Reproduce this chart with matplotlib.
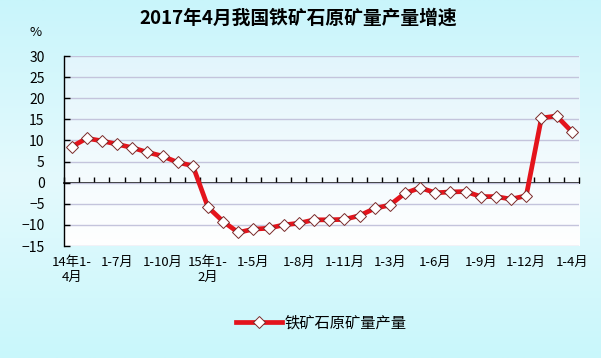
import matplotlib
matplotlib.use("Agg")
import matplotlib.pyplot as plt
import numpy as np
from matplotlib.colors import LinearSegmentedColormap

plt.rcParams['font.family'] = ['Noto Sans CJK SC', 'DejaVu Sans']

title = "2017年4月我国铁矿石原矿量产量增速"
series_name = "铁矿石原矿量产量"
categories = (
    ["14年1-\n4月", "1-5月", "1-6月", "1-7月", "1-8月", "1-9月", "1-10月", "1-11月", "1-12月"]
    + ["15年1-\n2月", "1-3月", "1-4月", "1-5月", "1-6月", "1-7月", "1-8月", "1-9月", "1-10月", "1-11月", "1-12月"]
    + ["16年1-2月", "1-3月", "1-4月", "1-5月", "1-6月", "1-7月", "1-8月", "1-9月", "1-10月", "1-11月", "1-12月"]
    + ["17年1-2月", "1-3月", "1-4月"]
)
values = (
    [8.5, 10.5, 9.9, 9.1, 8.3, 7.2, 6.3, 4.8, 4.0]
    + [-5.8, -9.2, -11.8, -11.0, -10.8, -10.0, -9.6, -8.8, -8.8, -8.7, -7.8]
    + [-6.1, -5.3, -2.5, -1.2, -2.4, -2.2, -2.1, -3.3, -3.3, -3.9, -3.1]
    + [15.3, 15.8, 12.1]
)
label_idx = list(range(0, len(categories), 3))
yticks = list(range(-15, 31, 5))

W, H = 601, 358
fig = plt.figure(figsize=(W / 100, H / 100), dpi=100)

# background gradient (figure)
bg = fig.add_axes([0, 0, 1, 1], zorder=-10)
bg_cmap = LinearSegmentedColormap.from_list("bg", ["#c9f5fb", "#e4fafd", "#c9f7fb"])
grad = np.linspace(0, 1, 256).reshape(-1, 1)
bg.imshow(grad, aspect="auto", cmap=bg_cmap, extent=[0, 1, 0, 1], origin="upper")
bg.set_axis_off()

left, right = 64 / W, 579.3 / W
top, bottom = 1 - 56 / H, 1 - 246 / H
ax = fig.add_axes([left, bottom, right - left, top - bottom])
x = np.arange(len(categories))
ax.set_xlim(-0.5, len(categories) - 0.5)
ax.set_ylim(-15, 30)

# plot-area gradient
pa_cmap = LinearSegmentedColormap.from_list("pa", ["#e2f5fc", "#ffffff"])
ax.imshow(grad, aspect="auto", cmap=pa_cmap, extent=[-0.5, len(categories) - 0.5, -15, 30],
          origin="upper", zorder=0)

ax.set_yticks(yticks)
ax.yaxis.grid(True, color="#c4c4dc", linewidth=1.0, zorder=1)
ax.set_axisbelow(True)
ax.tick_params(axis="y", direction="in", length=4, width=1, labelsize=10, pad=14,
               colors="black")

ax.set_xticks(x[label_idx])
ax.set_xticklabels([categories[i] for i in label_idx], fontsize=9.5, linespacing=1.25)
ax.tick_params(axis="x", length=0, pad=7)

for s in ["top", "right", "bottom"]:
    ax.spines[s].set_visible(False)
ax.spines["left"].set_linewidth(1)

# zero axis with category-boundary ticks pointing up
sec = ax.secondary_xaxis(1 / 3)
sec.set_xticks(np.arange(-0.5, len(categories), 1))
sec.tick_params(direction="in", length=4, width=1, labelbottom=False, labeltop=False)
sec.spines["bottom"].set_linewidth(1.2)
for s in ["top"]:
    sec.spines[s].set_visible(False)

ax.plot(x, values, color="#e4141c", linewidth=3.4, marker="D", markersize=6.5,
        markerfacecolor="white", markeredgecolor="#7a2a2a", markeredgewidth=0.7,
        label=series_name, zorder=5, solid_joinstyle="round")

fig.text(0.497, 1 - 18 / H, title, ha="center", va="center", fontsize=13.5, fontweight="bold")
fig.text(36 / W, 1 - 33 / H, "%", ha="center", va="center", fontsize=9.5)

leg = fig.legend(loc="center", bbox_to_anchor=(0.535, 1 - 323 / H), frameon=False,
                 fontsize=11, handlelength=3.0, handletextpad=0.2)

fig.savefig("out.png", dpi=100)
